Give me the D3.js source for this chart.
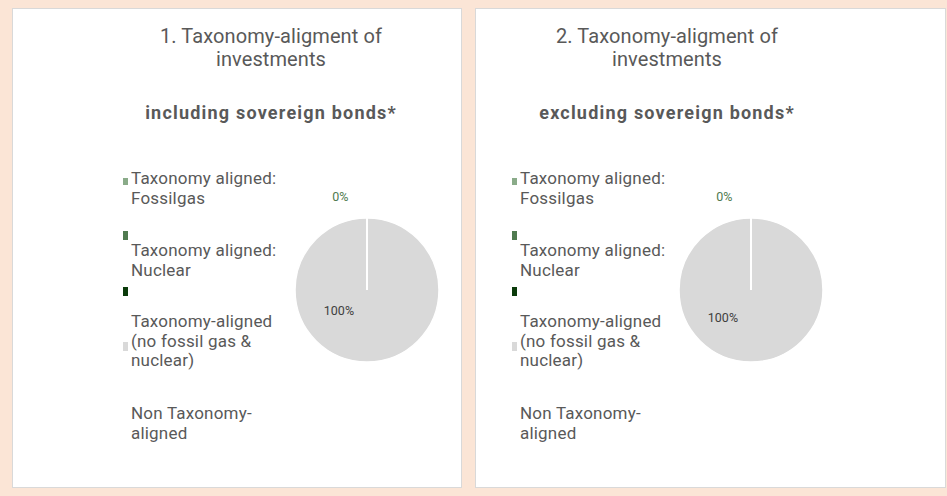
<!DOCTYPE html>
<meta charset="utf-8" />
<title>Taxonomy alignment pies</title>
<style>
  body { margin: 0; background: #fbe5d6; font-family: Roboto, sans-serif; }
  svg { display: block; }
  .panel { fill: #fff; stroke: #d9d9d9; stroke-width: 1px; }
  .title { fill: #595959; font-size: 20px; letter-spacing: 0.1px; }
  .subtitle { fill: #595959; font-size: 18px; font-weight: bold; letter-spacing: 1.2px; }
  .legend text { fill: #595959; font-size: 17px; letter-spacing: 0.2px; }
  .slice { stroke: #fff; stroke-width: 1.5px; }
  .lbl { font-size: 12.5px; }
</style>
<body>
<svg></svg>
<script src="https://d3js.org/d3.v7.min.js"></script>
<script>
  const categories = [
    "Taxonomy aligned: Fossil gas",
    "Taxonomy aligned: Nuclear",
    "Taxonomy-aligned (no fossil gas & nuclear)",
    "Non Taxonomy-aligned"
  ];
  const legendLines = [
    ["Taxonomy aligned:", "Fossilgas"],
    ["Taxonomy aligned:", "Nuclear"],
    ["Taxonomy-aligned", "(no  fossil gas &", "nuclear)"],
    ["Non Taxonomy-", "aligned"]
  ];
  const colors = ["#8aab89", "#4f7a4f", "#0b3b0b", "#d9d9d9"];
  const includingValues = [0, 0, 0, 100];
  const excludingValues = [0, 0, 0, 100];
  const charts = [
    { title: ["1. Taxonomy-aligment of", "investments"], subtitle: "including sovereign bonds*", values: includingValues },
    { title: ["2. Taxonomy-aligment of", "investments"], subtitle: "excluding sovereign bonds*", values: excludingValues }
  ];

  const width = 947, height = 496;
  const svg = d3.select("svg").attr("width", width).attr("height", height);

  const panels = [
    { x: 12.5, y: 8.5, w: 449, h: 479, cx: 271, legX: 123, pieX: 367 },
    { x: 475.5, y: 8.5, w: 470, h: 479, cx: 667, legX: 512, pieX: 751 }
  ];

  const radius = 72;
  const pie = d3.pie().sort(null).value(d => d);
  const arc = d3.arc().innerRadius(0).outerRadius(radius);
  const fmt = d3.format(".0%");

  // legend text baselines and marker tops (marker placement is off in the source chart)
  const textY = [184, 256, 327, 419];
  const markerY = [178, 231, 287, 342];

  charts.forEach((c, i) => {
    const p = panels[i];
    const g = svg.append("g");
    g.append("rect").attr("class", "panel")
      .attr("x", p.x).attr("y", p.y).attr("width", p.w).attr("height", p.h);

    g.append("text").attr("class", "title").attr("text-anchor", "middle")
      .selectAll("tspan").data(c.title).join("tspan")
      .attr("x", p.cx).attr("y", (d, j) => 43 + j * 23).text(d => d);

    g.append("text").attr("class", "subtitle").attr("text-anchor", "middle")
      .attr("x", p.cx).attr("y", 119).text(c.subtitle);

    const leg = g.append("g").attr("class", "legend");
    categories.forEach((cat, k) => {
      leg.append("rect").attr("x", p.legX).attr("y", markerY[k])
        .attr("width", 5).attr("height", k === 0 ? 7 : 9).attr("fill", colors[k]);
      leg.append("text").selectAll("tspan").data(legendLines[k]).join("tspan")
        .attr("x", p.legX + 8).attr("y", (d, j) => textY[k] + j * 19.5).text(d => d);
    });

    const cy = 290;
    const pg = g.append("g").attr("transform", `translate(${p.pieX},${cy})`);
    const arcs = pie(c.values);
    pg.selectAll("path").data(arcs.slice().reverse()).join("path")
      .attr("class", "slice")
      .attr("d", arc)
      .attr("fill", (d) => colors[d.index]);

    // data labels: "0%" outside near top, "100%" inside lower-left
    const zero = arcs[0];
    const full = arcs[3];
    pg.append("text").attr("class", "lbl").attr("text-anchor", "middle")
      .attr("x", -radius * 0.37).attr("y", -radius * 1.24)
      .attr("fill", "#4f7a4f")
      .text(fmt(zero.value / 100));
    pg.append("text").attr("class", "lbl").attr("text-anchor", "middle")
      .attr("x", -radius * 0.39).attr("y", radius * (i === 0 ? 0.35 : 0.44))
      .attr("fill", "#404040")
      .text(fmt(full.value / 100));
  });
</script>
</body>
